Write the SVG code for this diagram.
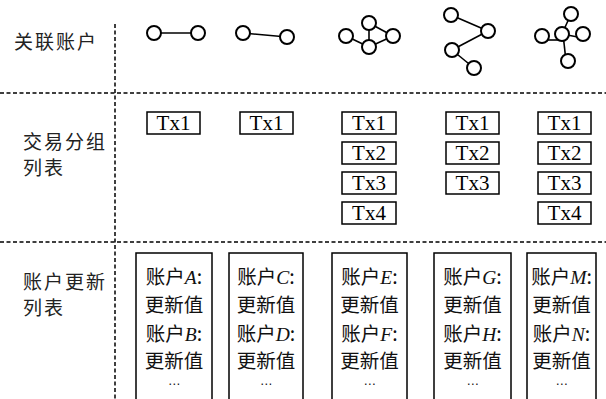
<svg xmlns="http://www.w3.org/2000/svg" width="606" height="399" viewBox="0 0 606 399">
<style>
.dash{stroke:#000;stroke-width:1.5;stroke-dasharray:4,2.5;fill:none}
.nd{fill:#fff;stroke:#000;stroke-width:2}
.ed{stroke:#000;stroke-width:1.6}
.lbl{font-family:"Noto Sans CJK SC",sans-serif;font-size:19px;letter-spacing:2px;fill:#222}
.tx rect{fill:#fff;stroke:#000;stroke-width:1.5}
.tx text{font-family:"Liberation Serif",serif;font-size:21px;text-anchor:middle;fill:#000}
.acc rect{fill:#fff;stroke:#000;stroke-width:1.5}
.acc text{font-family:"Noto Sans CJK SC",sans-serif;font-size:19.5px;text-anchor:middle;fill:#111}
.it{font-family:"Liberation Serif",serif;font-style:italic}
.acc text.dots{font-family:"DejaVu Sans",sans-serif;font-size:12px}
</style>
<g id="grid">
<line class="dash" x1="0" y1="93" x2="606" y2="93"/>
<line class="dash" x1="0" y1="242" x2="606" y2="242"/>
<line class="dash" x1="115" y1="24" x2="115" y2="399"/>
</g>
<g id="labels">
<text class="lbl" x="14" y="49">关联账户</text>
<text class="lbl" x="23" y="149">交易分组</text>
<text class="lbl" x="23" y="175">列表</text>
<text class="lbl" x="23" y="289">账户更新</text>
<text class="lbl" x="23" y="315">列表</text>
</g>
<g id="connectors">
<line class="ed" x1="154" y1="33" x2="198" y2="33"/>
<line class="ed" x1="243" y1="33" x2="287" y2="37"/>
<line class="ed" x1="346" y1="36" x2="369" y2="47"/>
<line class="ed" x1="369" y1="23" x2="369" y2="47"/>
<line class="ed" x1="369" y1="23" x2="393" y2="36"/>
<line class="ed" x1="369" y1="47" x2="393" y2="36"/>
<line class="ed" x1="451" y1="15" x2="488" y2="31"/>
<line class="ed" x1="488" y1="31" x2="452" y2="50"/>
<line class="ed" x1="452" y1="50" x2="474" y2="68"/>
<line class="ed" x1="562" y1="34" x2="571" y2="14"/>
<line class="ed" x1="542" y1="40" x2="562" y2="40"/>
<line class="ed" x1="562" y1="34" x2="583" y2="38"/>
<line class="ed" x1="563" y1="34" x2="566" y2="61"/>
</g>
<g id="graph1"><circle class="nd" cx="154" cy="33" r="7"/><circle class="nd" cx="198" cy="33" r="7"/></g>
<g id="graph2"><circle class="nd" cx="243" cy="33" r="7"/><circle class="nd" cx="287" cy="37" r="7"/></g>
<g id="graph3"><circle class="nd" cx="346" cy="36" r="7"/><circle class="nd" cx="369" cy="23" r="7"/><circle class="nd" cx="369" cy="47" r="7"/><circle class="nd" cx="393" cy="36" r="7"/></g>
<g id="graph4"><circle class="nd" cx="451" cy="15" r="7"/><circle class="nd" cx="488" cy="31" r="7"/><circle class="nd" cx="452" cy="50" r="7"/><circle class="nd" cx="474" cy="68" r="7"/></g>
<g id="graph5"><circle class="nd" cx="571" cy="14" r="7"/><circle class="nd" cx="562" cy="34" r="7"/><circle class="nd" cx="542" cy="36" r="7"/><circle class="nd" cx="583" cy="34" r="7"/><circle class="nd" cx="568" cy="61" r="7"/></g>
<g id="tx-col1" class="tx"><rect x="147" y="112" width="53" height="22"/><text x="173.5" y="130">Tx1</text></g>
<g id="tx-col2" class="tx"><rect x="240" y="112" width="53" height="22"/><text x="266.5" y="130">Tx1</text></g>
<g id="tx-col3" class="tx">
<rect x="342" y="112" width="54" height="22"/><text x="369" y="130">Tx1</text>
<rect x="342" y="142" width="54" height="22"/><text x="369" y="160">Tx2</text>
<rect x="342" y="172" width="54" height="22"/><text x="369" y="190">Tx3</text>
<rect x="342" y="202" width="54" height="22"/><text x="369" y="220">Tx4</text>
</g>
<g id="tx-col4" class="tx">
<rect x="446" y="112" width="53" height="22"/><text x="472.5" y="130">Tx1</text>
<rect x="446" y="142" width="53" height="22"/><text x="472.5" y="160">Tx2</text>
<rect x="446" y="172" width="53" height="22"/><text x="472.5" y="190">Tx3</text>
</g>
<g id="tx-col5" class="tx">
<rect x="538" y="112" width="53" height="22"/><text x="564.5" y="130">Tx1</text>
<rect x="538" y="142" width="53" height="22"/><text x="564.5" y="160">Tx2</text>
<rect x="538" y="172" width="53" height="22"/><text x="564.5" y="190">Tx3</text>
<rect x="538" y="202" width="53" height="22"/><text x="564.5" y="220">Tx4</text>
</g>
<g id="acc-col1" class="acc">
<rect x="136" y="253" width="76" height="160"/>
<text x="174" y="284">账户<tspan class="it">A</tspan>:</text>
<text x="174" y="312">更新值</text>
<text x="174" y="341">账户<tspan class="it">B</tspan>:</text>
<text x="174" y="368">更新值</text>
<text x="174" y="388" class="dots">⋯</text>
</g>
<g id="acc-col2" class="acc">
<rect x="229" y="253" width="74" height="160"/>
<text x="266" y="284">账户<tspan class="it">C</tspan>:</text>
<text x="266" y="312">更新值</text>
<text x="266" y="341">账户<tspan class="it">D</tspan>:</text>
<text x="266" y="368">更新值</text>
<text x="266" y="388" class="dots">⋯</text>
</g>
<g id="acc-col3" class="acc">
<rect x="332" y="253" width="75" height="160"/>
<text x="369.5" y="284">账户<tspan class="it">E</tspan>:</text>
<text x="369.5" y="312">更新值</text>
<text x="369.5" y="341">账户<tspan class="it">F</tspan>:</text>
<text x="369.5" y="368">更新值</text>
<text x="369.5" y="388" class="dots">⋯</text>
</g>
<g id="acc-col4" class="acc">
<rect x="434" y="253" width="77" height="160"/>
<text x="472.5" y="284">账户<tspan class="it">G</tspan>:</text>
<text x="472.5" y="312">更新值</text>
<text x="472.5" y="341">账户<tspan class="it">H</tspan>:</text>
<text x="472.5" y="368">更新值</text>
<text x="472.5" y="388" class="dots">⋯</text>
</g>
<g id="acc-col5" class="acc">
<rect x="527" y="253" width="69" height="160"/>
<text x="561.5" y="284">账户<tspan class="it">M</tspan>:</text>
<text x="561.5" y="312">更新值</text>
<text x="561.5" y="341">账户<tspan class="it">N</tspan>:</text>
<text x="561.5" y="368">更新值</text>
<text x="561.5" y="388" class="dots">⋯</text>
</g>
</svg>
